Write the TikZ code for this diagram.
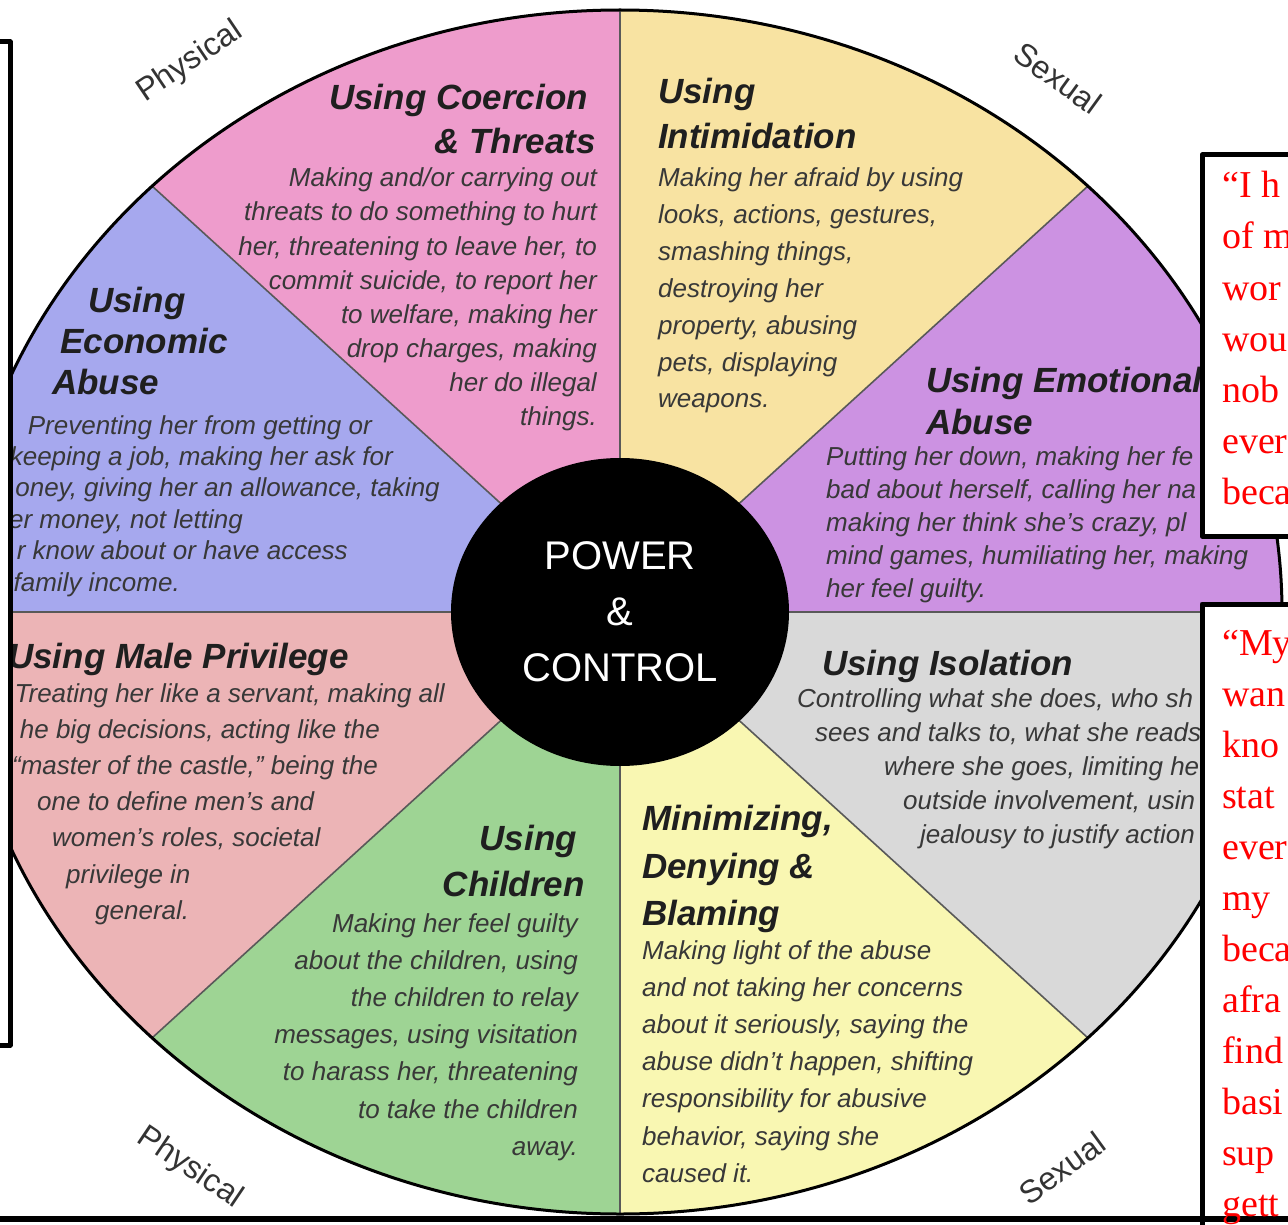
\documentclass[tikz,border=0pt]{standalone}
\usepackage{fontspec}
\setmainfont{Liberation Sans}
\newfontfamily\quotefont{Liberation Serif}
\usetikzlibrary{shapes.geometric}
\definecolor{coercion}{RGB}{238,156,204}
\definecolor{intimidation}{RGB}{248,227,162}
\definecolor{emotional}{RGB}{204,146,226}
\definecolor{isolation}{RGB}{217,217,217}
\definecolor{minimizing}{RGB}{249,247,178}
\definecolor{children}{RGB}{158,212,148}
\definecolor{privilege}{RGB}{236,180,182}
\definecolor{economic}{RGB}{166,168,238}
\begin{document}
\begin{tikzpicture}[x=1pt,y=-1pt,line join=round,
	head/.style={font=\fontsize{35}{40}\selectfont\bfseries\itshape,text=black!88,inner sep=0pt},
	body/.style={font=\fontsize{26}{30}\selectfont\itshape,text=black!78,inner sep=0pt},
	side/.style={font=\fontsize{32}{32}\selectfont,text=black!80,inner sep=0pt},
	quote/.style={font=\quotefont\fontsize{38}{40}\selectfont,text=red,inner sep=0pt,anchor=base west},
	divider/.style={draw=black!65,line width=1.6pt},
	boxframe/.style={draw=black,line width=5pt,fill=white}]
	\useasboundingbox (0,0) rectangle (1288,1225);
	\clip (0,0) rectangle (1288,1225);
	\def\rx{662} \def\ry{602} % wheel radii
	\coordinate (C) at (620,612);
	\coordinate (TL) at (-316,-240); \coordinate (U) at (620,-600);
	\coordinate (TR) at (1556,-240); \coordinate (R) at (1900,612);
	\coordinate (BR) at (1556,1464); \coordinate (D) at (620,1824);
	\coordinate (BL) at (-316,1464); \coordinate (L) at (-660,612);
	% sectors
	\begin{scope}
		\clip (C) ellipse [x radius=\rx, y radius=\ry];
		\fill[coercion] (C)--(TL)--(U)--cycle;
		\fill[intimidation] (C)--(U)--(TR)--cycle;
		\fill[emotional] (C)--(TR)--(R)--cycle;
		\fill[isolation] (C)--(R)--(BR)--cycle;
		\fill[minimizing] (C)--(BR)--(D)--cycle;
		\fill[children] (C)--(D)--(BL)--cycle;
		\fill[privilege] (C)--(BL)--(L)--cycle;
		\fill[economic] (C)--(L)--(TL)--cycle;
		\foreach \p in {TL,U,TR,R,BR,D,BL,L} \draw[divider] (C)--(\p);
	\end{scope}
	\draw[black,line width=3pt] (C) ellipse [x radius=\rx, y radius=\ry];
	\node[ellipse,fill=black,minimum width=338,minimum height=308,inner sep=0pt,align=center,text=white,font=\fontsize{40}{56}\selectfont] (hub) at (C) {POWER\\\&\\CONTROL};
	% coercion & threats
	\node[head,anchor=base east] (coe-h1) at (588,110) {Using Coercion};
	\node[head,anchor=base east] (coe-h2) at (596,154) {\& Threats};
	\foreach \txt [count=\i from 0] in {Making and/or carrying out, threats to do something to hurt, {her, threatening to leave her, to}, {commit suicide, to report her}, {to welfare, making her}, {drop charges, making}, her do illegal, things.}
		\node[body,anchor=base east] (coe-\i) at (597,{187+34*\i}) {\txt};
	% intimidation
	\node[head,anchor=base west] (int-h1) at (658,104) {Using};
	\node[head,anchor=base west] (int-h2) at (658,149) {Intimidation};
	\foreach \txt [count=\i from 0] in {Making her afraid by using, {looks, actions, gestures,}, {smashing things,}, destroying her, {property, abusing}, {pets, displaying}, weapons.}
		\node[body,anchor=base west] (int-\i) at (658,{187+36.8*\i}) {\txt};
	% economic abuse
	\node[head,anchor=base west] (eco-h1) at (88,312) {Using};
	\node[head,anchor=base west] (eco-h2) at (60,353) {Economic};
	\node[head,anchor=base west] (eco-h3) at (52,394) {Abuse};
	\foreach \xx/\txt [count=\i from 0] in {372/Preventing her from getting or, 393/{keeping a job, making her ask for}, 440/{oney, giving her an allowance, taking}, 243/{er money, not letting}, 348/r know about or have access, 180/family income.}
		\node[body,anchor=base east] (eco-\i) at (\xx,{434+31.4*\i}) {\txt};
	% emotional abuse
	\node[head,anchor=base west] (emo-h1) at (926,392) {Using Emotional};
	\node[head,anchor=base west] (emo-h2) at (926,434) {Abuse};
	\foreach \txt [count=\i from 0] in {{Putting her down, making her fe}, {bad about herself, calling her na}, {making her think she’s crazy, pl}, {mind games, humiliating her, making}, her feel guilty.}
		\node[body,anchor=base west] (emo-\i) at (826,{465+33.2*\i}) {\txt};
	% male privilege
	\node[head,anchor=base west] (male-h) at (8,668) {Using Male Privilege};
	\foreach \anc/\xx/\txt [count=\i from 0] in {east/445/{Treating her like a servant, making all}, east/380/{he big decisions, acting like the}, east/378/{“master of the castle,” being the}, west/37/one to define men’s and, west/52/{women’s roles, societal}, west/66/privilege in, west/95/general.}
		\node[body,anchor=base \anc] (male-\i) at (\xx,{702+36.2*\i}) {\txt};
	% isolation
	\node[head,anchor=base west] (iso-h) at (822,675) {Using Isolation};
	\foreach \xx/\txt [count=\i from 0] in {797/{Controlling what she does, who sh}, 815/{sees and talks to, what she reads}, 884/{where she goes, limiting he}, 903/{outside involvement, usin}, 920/jealousy to justify action}
		\node[body,anchor=base west] (iso-\i) at (\xx,{707+34*\i}) {\txt};
	% children
	\node[head,anchor=base east] (chi-h1) at (577,850) {Using};
	\node[head,anchor=base east] (chi-h2) at (585,896) {Children};
	\foreach \txt [count=\i from 0] in {Making her feel guilty, {about the children, using}, the children to relay, {messages, using visitation}, {to harass her, threatening}, to take the children, away.}
		\node[body,anchor=base east] (chi-\i) at (578,{932+37.2*\i}) {\txt};
	% minimizing, denying & blaming
	\node[head,anchor=base west] (min-h1) at (642,830) {Minimizing,};
	\node[head,anchor=base west] (min-h2) at (642,878) {Denying \&};
	\node[head,anchor=base west] (min-h3) at (642,925) {Blaming};
	\foreach \txt [count=\i from 0] in {Making light of the abuse, and not taking her concerns, {about it seriously, saying the}, {abuse didn’t happen, shifting}, responsibility for abusive, {behavior, saying she}, caused it.}
		\node[body,anchor=base west] (min-\i) at (642,{959+37.2*\i}) {\txt};
	% rim labels
	\node[side,rotate=34] (phys-top) at (190,62) {Physical};
	\node[side,rotate=-36] (sex-top) at (1058,78) {Sexual};
	\node[side,rotate=-34] (phys-bot) at (190,1168) {Physical};
	\node[side,rotate=36] (sex-bot) at (1062,1168) {Sexual};
	% boxes over the wheel
	\draw[boxframe] (-60,42) rectangle (10,1045);
	\draw[boxframe] (1202,155) rectangle (1340,536);
	\draw[boxframe] (1202,604) rectangle (1340,1300);
	\draw[black,line width=6pt] (-10,1219) -- (1300,1219);
	\foreach \txt [count=\i from 0] in {“I h, of m, wor, wou, nob, ever, beca}
		\node[quote] (qa-\i) at (1222,{198+51*\i}) {\txt};
	\foreach \txt [count=\i from 0] in {“My, wan, kno, stat, ever, my, beca, afra, find, basi, sup, gett}
		\node[quote] (qb-\i) at (1222,{655+51*\i}) {\txt};
\end{tikzpicture}
\end{document}
